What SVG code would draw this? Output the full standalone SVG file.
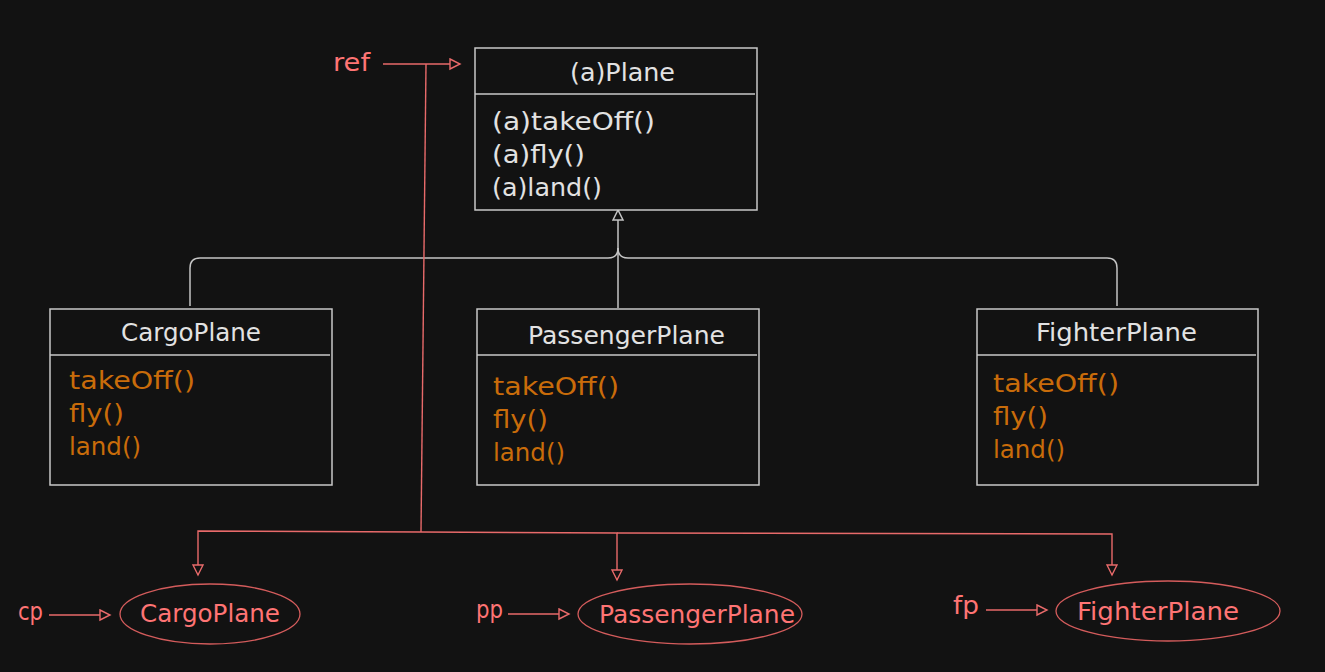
<svg xmlns="http://www.w3.org/2000/svg" width="1325" height="672" viewBox="0 0 1325 672">
<style>
.box{fill:#121212;stroke:#c8c8c8;stroke-width:1.5}
.div{stroke:#c8c8c8;stroke-width:1.5}
.t{font-family:"DejaVu Sans","Liberation Sans",sans-serif;font-size:24px}
.w{fill:#e2e2e2}
.o{fill:#c96c0a}
.r{fill:#ff7474}
.gl{fill:none;stroke:#c4c4c4;stroke-width:1.5}
.rl{fill:none;stroke:#e86a6a;stroke-width:1.4}
.el{fill:none;stroke:#d45c5c;stroke-width:1.3}
</style>
<defs>
<marker id="ag" markerUnits="userSpaceOnUse" markerWidth="14" markerHeight="14" refX="11" refY="6" orient="auto">
<path d="M1,1 L11,6 L1,11 Z" fill="#121212" stroke="#c4c4c4" stroke-width="1.5"/>
</marker>
<marker id="ar" markerUnits="userSpaceOnUse" markerWidth="14" markerHeight="14" refX="11" refY="6" orient="auto">
<path d="M1,1 L11,6 L1,11 Z" fill="#121212" stroke="#e86a6a" stroke-width="1.4"/>
</marker>
</defs>
<rect width="1325" height="672" fill="#121212"/>

<g id="connectors">
<path class="gl" d="M618,308 V210" marker-end="url(#ag)"/>
<path class="gl" d="M190,306 V268 Q190,258 200,258 H608 Q618,258 618,248"/>
<path class="gl" d="M1117,306 V268 Q1117,258 1107,258 H628 Q618,258 618,248"/>
<path class="rl" d="M383,64 H460" marker-end="url(#ar)"/>
<path class="rl" d="M426,64 L421,532"/>
<path class="rl" d="M421,532 L198,531 L198,575" marker-end="url(#ar)"/>
<path class="rl" d="M421,532 L617,533 L617,580" marker-end="url(#ar)"/>
<path class="rl" d="M617,533 L1112,534 L1112,575" marker-end="url(#ar)"/>
<path class="rl" d="M49,615 H110" marker-end="url(#ar)"/>
<path class="rl" d="M508,614 H569" marker-end="url(#ar)"/>
<path class="rl" d="M986,610 H1047" marker-end="url(#ar)"/>
</g>

<g id="plane">
<rect class="box" x="475" y="48" width="282" height="162"/>
<line class="div" x1="475" y1="94" x2="755" y2="94"/>
<text class="t w" x="570" y="81" textLength="105" lengthAdjust="spacingAndGlyphs">(a)Plane</text>
<text class="t w" x="492" y="130" textLength="163" lengthAdjust="spacingAndGlyphs">(a)takeOff()</text>
<text class="t w" x="492" y="163" textLength="93" lengthAdjust="spacingAndGlyphs">(a)fly()</text>
<text class="t w" x="492" y="196" textLength="110" lengthAdjust="spacingAndGlyphs">(a)land()</text>
</g>

<g id="cargoplane">
<rect class="box" x="50" y="309" width="282" height="176"/>
<line class="div" x1="50" y1="355" x2="330" y2="355"/>
<text class="t w" x="121" y="341" textLength="140" lengthAdjust="spacingAndGlyphs">CargoPlane</text>
<text class="t o" x="69" y="389" textLength="126" lengthAdjust="spacingAndGlyphs">takeOff()</text>
<text class="t o" x="69" y="422" textLength="55" lengthAdjust="spacingAndGlyphs">fly()</text>
<text class="t o" x="69" y="455" textLength="72" lengthAdjust="spacingAndGlyphs">land()</text>
</g>

<g id="passengerplane">
<rect class="box" x="477" y="309" width="282" height="176"/>
<line class="div" x1="477" y1="355" x2="757" y2="355"/>
<text class="t w" x="528" y="344" textLength="197" lengthAdjust="spacingAndGlyphs">PassengerPlane</text>
<text class="t o" x="493" y="395" textLength="126" lengthAdjust="spacingAndGlyphs">takeOff()</text>
<text class="t o" x="493" y="428" textLength="55" lengthAdjust="spacingAndGlyphs">fly()</text>
<text class="t o" x="493" y="461" textLength="72" lengthAdjust="spacingAndGlyphs">land()</text>
</g>

<g id="fighterplane">
<rect class="box" x="977" y="309" width="281" height="176"/>
<line class="div" x1="977" y1="355" x2="1256" y2="355"/>
<text class="t w" x="1036" y="341" textLength="161" lengthAdjust="spacingAndGlyphs">FighterPlane</text>
<text class="t o" x="993" y="392" textLength="126" lengthAdjust="spacingAndGlyphs">takeOff()</text>
<text class="t o" x="993" y="425" textLength="55" lengthAdjust="spacingAndGlyphs">fly()</text>
<text class="t o" x="993" y="458" textLength="72" lengthAdjust="spacingAndGlyphs">land()</text>
</g>

<g id="ref">
<text class="t r" x="333" y="71" textLength="37" lengthAdjust="spacingAndGlyphs">ref</text>
</g>

<g id="cp">
<text class="t r" x="18" y="620" textLength="25" lengthAdjust="spacingAndGlyphs">cp</text>
</g>
<g id="cargo-obj">
<ellipse class="el" cx="210" cy="614" rx="90" ry="30"/>
<text class="t r" x="140" y="622" textLength="140" lengthAdjust="spacingAndGlyphs">CargoPlane</text>
</g>

<g id="pp">
<text class="t r" x="476" y="618" textLength="27" lengthAdjust="spacingAndGlyphs">pp</text>
</g>
<g id="passenger-obj">
<ellipse class="el" cx="690" cy="614" rx="112" ry="30"/>
<text class="t r" x="599" y="623" textLength="196" lengthAdjust="spacingAndGlyphs">PassengerPlane</text>
</g>

<g id="fp">
<text class="t r" x="953" y="614" textLength="26" lengthAdjust="spacingAndGlyphs">fp</text>
</g>
<g id="fighter-obj">
<ellipse class="el" cx="1168" cy="611" rx="112" ry="30"/>
<text class="t r" x="1077" y="620" textLength="162" lengthAdjust="spacingAndGlyphs">FighterPlane</text>
</g>
</svg>
